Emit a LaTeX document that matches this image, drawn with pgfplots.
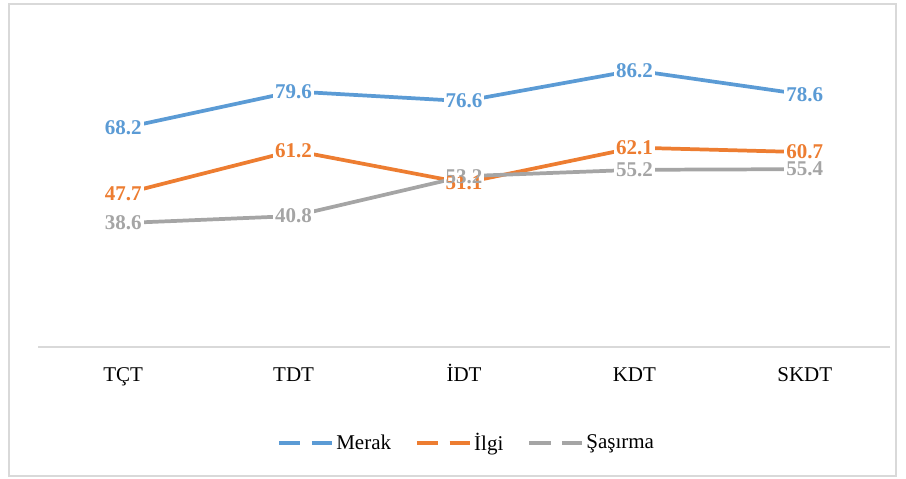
\documentclass[border=0pt]{standalone}
\usepackage{pgfplots}
\usepackage{pgfplotstable}
\usepackage{fontspec}
\setmainfont{Liberation Serif}
\pgfplotsset{compat=1.18}
\definecolor{merak}{RGB}{91,155,213}
\definecolor{ilgi}{RGB}{237,125,49}
\definecolor{sasirma}{RGB}{165,165,165}
\definecolor{axisgray}{RGB}{217,217,217}

\pgfplotstableread{
x merak ilgi sasirma
0 68.2 47.7 38.6
1 79.6 61.2 40.8
2 76.6 51.1 53.2
3 86.2 62.1 55.2
4 78.6 60.7 55.4
}\data

\newcommand{\lblfont}{\fontsize{15.75}{18}\selectfont}

\begin{document}
\begin{tikzpicture}
\useasboundingbox (0,0) rectangle (679.5pt,358.5pt);
\draw[axisgray, line width=0.9pt] (6.75pt,1.5pt) rectangle (672pt,355.5pt);
\begin{axis}[
    at={(28.5pt,98.25pt)}, anchor=south west,
    scale only axis,
    width=639pt, height=240.75pt,
    xmin=-0.5, xmax=4.5, ymin=0, ymax=100,
    clip=false,
    hide y axis,
    axis x line*=bottom,
    x axis line style={draw=axisgray, line width=1.5pt, -},
    xtick={0,1,2,3,4},
    xticklabels={TÇT,TDT,İDT,KDT,SKDT},
    xtick style={draw=none},
    major tick length=0pt,
    xticklabel style={font=\lblfont, anchor=base, yshift=-25.5pt},
    /pgf/number format/.cd, fixed, fixed zerofill, precision=1, assume math mode=true,
    /pgfplots/.cd,
    legend columns=3,
    legend style={at={(0.5035,-0.299)}, anchor=center, draw=none, fill=none,
        font=\lblfont, inner sep=0pt,
        /tikz/every even column/.append style={column sep=16pt}},
    legend image code/.code={
        \draw[#1, line cap=butt] (0pt,0pt) -- (16pt,0pt);
        \draw[#1, line cap=butt] (24.5pt,0pt) -- (39.5pt,0pt);
    },
    every axis plot/.append style={line width=2.8pt, line cap=round, line join=round},
]
\addplot[merak] table[x=x, y=merak]{\data};
\addlegendentry{Merak}
\addplot[ilgi] table[x=x, y=ilgi]{\data};
\addlegendentry{İlgi}
\addplot[sasirma] table[x=x, y=sasirma]{\data};
\addlegendentry{Şaşırma}

% white boxes behind the labels
\pgfplotsinvokeforeach{merak,ilgi,sasirma}{
\addplot[draw=none, forget plot, nodes near coords,
    every node near coord/.style={anchor=center, fill=white, text=white,
        inner sep=1.5pt, font=\lblfont\bfseries}]
    table[x=x, y=#1]{\data};
}
% label text
\pgfplotsinvokeforeach{merak,ilgi,sasirma}{
\addplot[draw=none, forget plot, nodes near coords,
    every node near coord/.style={anchor=center, text=#1,
        inner sep=1.5pt, font=\lblfont\bfseries}]
    table[x=x, y=#1]{\data};
}
\end{axis}
\end{tikzpicture}
\end{document}
